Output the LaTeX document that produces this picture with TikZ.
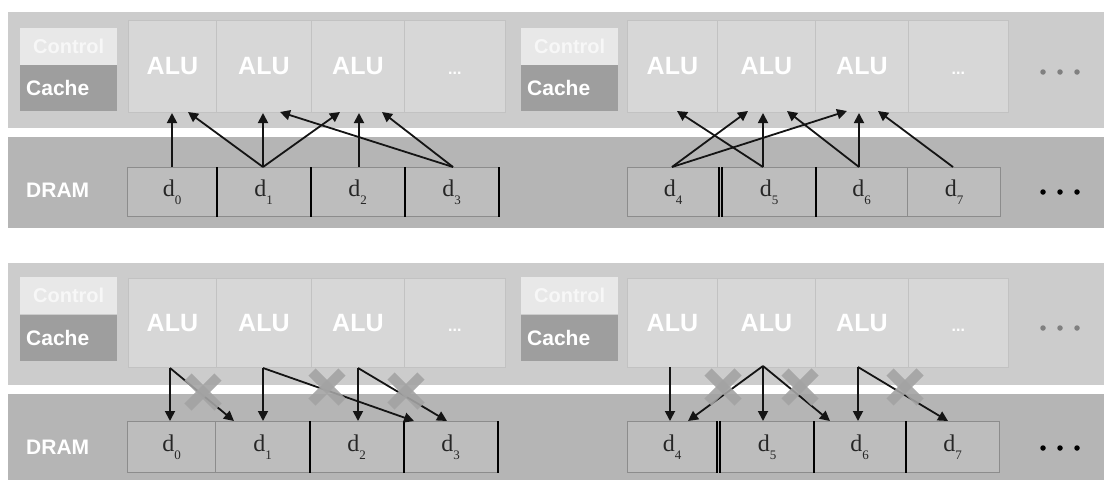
\documentclass[tikz,border=0pt]{standalone}
\usepackage{fontspec}
\setmainfont{Liberation Serif}
\setsansfont{Liberation Sans}
\usetikzlibrary{arrows.meta}
\definecolor{chipband}{gray}{0.80}
\definecolor{alucol}{gray}{0.845}
\definecolor{alurule}{gray}{0.76}
\definecolor{drambg}{gray}{0.71}
\definecolor{ctrlbox}{gray}{0.91}
\definecolor{ctrltext}{gray}{0.97}
\definecolor{cachebox}{gray}{0.62}
\definecolor{dfill}{gray}{0.74}
\definecolor{dborder}{gray}{0.55}
\definecolor{xstroke}{gray}{0.64}
\definecolor{arrowc}{gray}{0.08}
\definecolor{chipdot}{gray}{0.50}
\newcommand\dlab[1]{d\raisebox{-0.32em}{\fontsize{13}{13}\selectfont #1}}
\begin{document}
\begin{tikzpicture}[x=1pt,y=-1pt,
  alucolumn/.style={fill=alucol, draw=alurule, line width=0.8pt, inner sep=0pt, anchor=north west,
    text=white, font=\sffamily\bfseries\fontsize{25}{28}\selectfont},
  ctrlst/.style={fill=ctrlbox, draw=none, inner sep=0pt, anchor=north west, minimum width=97pt,
    minimum height=37pt, text=ctrltext, font=\sffamily\bfseries\fontsize{20}{22}\selectfont},
  cachest/.style={fill=cachebox, draw=none, inner xsep=6pt, inner ysep=0pt, anchor=north west,
    text width=85pt, align=left, minimum height=46pt, text=white,
    font=\sffamily\bfseries\fontsize{21}{23}\selectfont},
  dramtext/.style={anchor=west, inner sep=0pt, text=white, font=\sffamily\bfseries\fontsize{21}{23}\selectfont},
  dboxst/.style={fill=dfill, draw=dborder, line width=1pt, inner sep=0pt, anchor=north west,
    font=\fontsize{24}{26}\selectfont, text=black!85},
  darkedge/.style={draw=black, line width=1.6pt},
  conn/.style={draw=arrowc, line width=1.8pt, -{Triangle[length=10pt,width=10pt]}},
  xline/.style={draw=xstroke, line width=10pt, opacity=0.9},
  crossx/.pic={\draw[xline] (-15,-15) -- (15,15); \draw[xline] (-15,15) -- (15,-15);},
  dotst/.style={circle, inner sep=0pt, minimum size=5.5pt}
]
\useasboundingbox (0,0) rectangle (1104,480);
\fill[white] (0,0) rectangle (1104,480);

% ---------------- bands ----------------
\fill[chipband] (8,12) rectangle (1104,128);
\fill[drambg] (8,137) rectangle (1104,228);
\fill[chipband] (8,263) rectangle (1104,385);
\fill[drambg] (8,394) rectangle (1104,480);

% ================= TOP PANEL =================
\node[alucolumn, minimum width=88pt, minimum height=92pt] (tA1) at (128,20) {ALU};
\node[alucolumn, minimum width=95pt, minimum height=92pt] (tA2) at (216,20) {ALU};
\node[alucolumn, minimum width=93pt, minimum height=92pt] (tA3) at (311,20) {ALU};
\node[alucolumn, minimum width=101pt, minimum height=92pt] (tA4) at (404,20) {\vphantom{ALU}\fontsize{16}{18}\selectfont...};
\node[alucolumn, minimum width=90pt, minimum height=92pt] (tB1) at (627,20) {ALU};
\node[alucolumn, minimum width=98pt, minimum height=92pt] (tB2) at (717,20) {ALU};
\node[alucolumn, minimum width=93pt, minimum height=92pt] (tB3) at (815,20) {ALU};
\node[alucolumn, minimum width=100pt, minimum height=92pt] (tB4) at (908,20) {\vphantom{ALU}\fontsize{16}{18}\selectfont...};
\node[ctrlst] (tCtrlA) at (20,28) {Control};
\node[cachest] (tCacheA) at (20,65) {Cache};
\node[ctrlst] (tCtrlB) at (521,28) {Control};
\node[cachest] (tCacheB) at (521,65) {Cache};
\node[dramtext] (tDram) at (26,190) {DRAM};
\node[dboxst, minimum width=89pt, minimum height=49pt] (td0) at (127,167) {\dlab{0}};
\node[dboxst, minimum width=94pt, minimum height=49pt] (td1) at (216,167) {\dlab{1}};
\node[dboxst, minimum width=94pt, minimum height=49pt] (td2) at (310,167) {\dlab{2}};
\node[dboxst, minimum width=94pt, minimum height=49pt] (td3) at (404,167) {\dlab{3}};
\node[dboxst, minimum width=91pt, minimum height=49pt] (td4) at (627,167) {\dlab{4}};
\node[dboxst, minimum width=93pt, minimum height=49pt] (td5) at (722,167) {\dlab{5}};
\node[dboxst, minimum width=92pt, minimum height=49pt] (td6) at (815,167) {\dlab{6}};
\node[dboxst, minimum width=93pt, minimum height=49pt] (td7) at (907,167) {\dlab{7}};
\foreach \b in {td0,td1,td2,td3,td4,td5} \draw[darkedge] (\b.north east) -- (\b.south east);
\draw[darkedge] (td5.north west) -- (td5.south west);
\foreach \x [count=\i] in {1043,1060,1077} {
  \node[dotst, fill=chipdot] (tcd\i) at (\x,72) {};
  \node[dotst, fill=black] (tdd\i) at (\x,192) {};
}
\coordinate (s0) at (172,167); \coordinate (s1) at (263,167);
\coordinate (s2) at (359,167); \coordinate (s3) at (453,167);
\coordinate (s4) at (672,167); \coordinate (s5) at (763,167);
\coordinate (s6) at (859,167); \coordinate (s7) at (953,167);
\coordinate (u0) at (172,113); \coordinate (u1a) at (188,112);
\coordinate (u1b) at (263,113); \coordinate (u1c) at (340,112);
\coordinate (u2) at (359,113); \coordinate (u3a) at (280,112);
\coordinate (u3b) at (382,112);
\coordinate (u4a) at (748,111); \coordinate (u4b) at (847,111);
\coordinate (u5a) at (677,111); \coordinate (u5b) at (763,113);
\coordinate (u6a) at (787,111); \coordinate (u6b) at (859,113);
\coordinate (u7) at (878,111);
\draw[conn] (s0) -- (u0);
\draw[conn] (s1) -- (u1a);
\draw[conn] (s1) -- (u1b);
\draw[conn] (s1) -- (u1c);
\draw[conn] (s2) -- (u2);
\draw[conn] (s3) -- (u3a);
\draw[conn] (s3) -- (u3b);
\draw[conn] (s4) -- (u4a);
\draw[conn] (s4) -- (u4b);
\draw[conn] (s5) -- (u5a);
\draw[conn] (s5) -- (u5b);
\draw[conn] (s6) -- (u6a);
\draw[conn] (s6) -- (u6b);
\draw[conn] (s7) -- (u7);

% ================= BOTTOM PANEL =================
\node[alucolumn, minimum width=88pt, minimum height=89pt] (bA1) at (128,278) {ALU};
\node[alucolumn, minimum width=95pt, minimum height=89pt] (bA2) at (216,278) {ALU};
\node[alucolumn, minimum width=93pt, minimum height=89pt] (bA3) at (311,278) {ALU};
\node[alucolumn, minimum width=101pt, minimum height=89pt] (bA4) at (404,278) {\vphantom{ALU}\fontsize{16}{18}\selectfont...};
\node[alucolumn, minimum width=90pt, minimum height=89pt] (bB1) at (627,278) {ALU};
\node[alucolumn, minimum width=98pt, minimum height=89pt] (bB2) at (717,278) {ALU};
\node[alucolumn, minimum width=93pt, minimum height=89pt] (bB3) at (815,278) {ALU};
\node[alucolumn, minimum width=100pt, minimum height=89pt] (bB4) at (908,278) {\vphantom{ALU}\fontsize{16}{18}\selectfont...};
\node[ctrlst] (bCtrlA) at (20,277) {Control};
\node[cachest] (bCacheA) at (20,315) {Cache};
\node[ctrlst] (bCtrlB) at (521,277) {Control};
\node[cachest] (bCacheB) at (521,315) {Cache};
\node[dramtext] (bDram) at (26,447) {DRAM};
\node[dboxst, minimum width=88pt, minimum height=51pt] (bd0) at (127,421) {\dlab{0}};
\node[dboxst, minimum width=94pt, minimum height=51pt] (bd1) at (215,421) {\dlab{1}};
\node[dboxst, minimum width=94pt, minimum height=51pt] (bd2) at (309,421) {\dlab{2}};
\node[dboxst, minimum width=94pt, minimum height=51pt] (bd3) at (403,421) {\dlab{3}};
\node[dboxst, minimum width=89pt, minimum height=51pt] (bd4) at (627,421) {\dlab{4}};
\node[dboxst, minimum width=93pt, minimum height=51pt] (bd5) at (720,421) {\dlab{5}};
\node[dboxst, minimum width=92pt, minimum height=51pt] (bd6) at (813,421) {\dlab{6}};
\node[dboxst, minimum width=94pt, minimum height=51pt] (bd7) at (905,421) {\dlab{7}};
\foreach \b in {bd1,bd2,bd3,bd4,bd5,bd6} \draw[darkedge] (\b.north east) -- (\b.south east);
\draw[darkedge] (bd5.north west) -- (bd5.south west);
\foreach \x [count=\i] in {1043,1060,1077} {
  \node[dotst, fill=chipdot] (bcd\i) at (\x,328) {};
  \node[dotst, fill=black] (bdd\i) at (\x,448) {};
}
\coordinate (pA) at (170,368); \coordinate (pB) at (263,368); \coordinate (pC) at (358,368);
\coordinate (pD) at (670,367); \coordinate (pE) at (763,366); \coordinate (pF) at (858,367);
\coordinate (qA1) at (170,421); \coordinate (qA2) at (234,421);
\coordinate (qB1) at (263,421); \coordinate (qB2) at (414,421);
\coordinate (qC1) at (358,421); \coordinate (qC2) at (447,421);
\coordinate (qD1) at (670,421);
\coordinate (qE1) at (763,421); \coordinate (qE2) at (688,421); \coordinate (qE3) at (830,421);
\coordinate (qF1) at (858,421); \coordinate (qF2) at (948,421);
\draw[conn] (pA) -- (qA1);
\draw[conn] (pA) -- (qA2);
\draw[conn] (pB) -- (qB1);
\draw[conn] (pB) -- (qB2);
\draw[conn] (pC) -- (qC1);
\draw[conn] (pC) -- (qC2);
\draw[conn] (pD) -- (qD1);
\draw[conn] (pE) -- (qE1);
\draw[conn] (pE) -- (qE2);
\draw[conn] (pE) -- (qE3);
\draw[conn] (pF) -- (qF1);
\draw[conn] (pF) -- (qF2);
\pic at (203,392) {crossx};
\pic at (327,387) {crossx};
\pic at (406,391) {crossx};
\pic at (723,387) {crossx};
\pic at (800,387) {crossx};
\pic at (905,387) {crossx};
\end{tikzpicture}
\end{document}
